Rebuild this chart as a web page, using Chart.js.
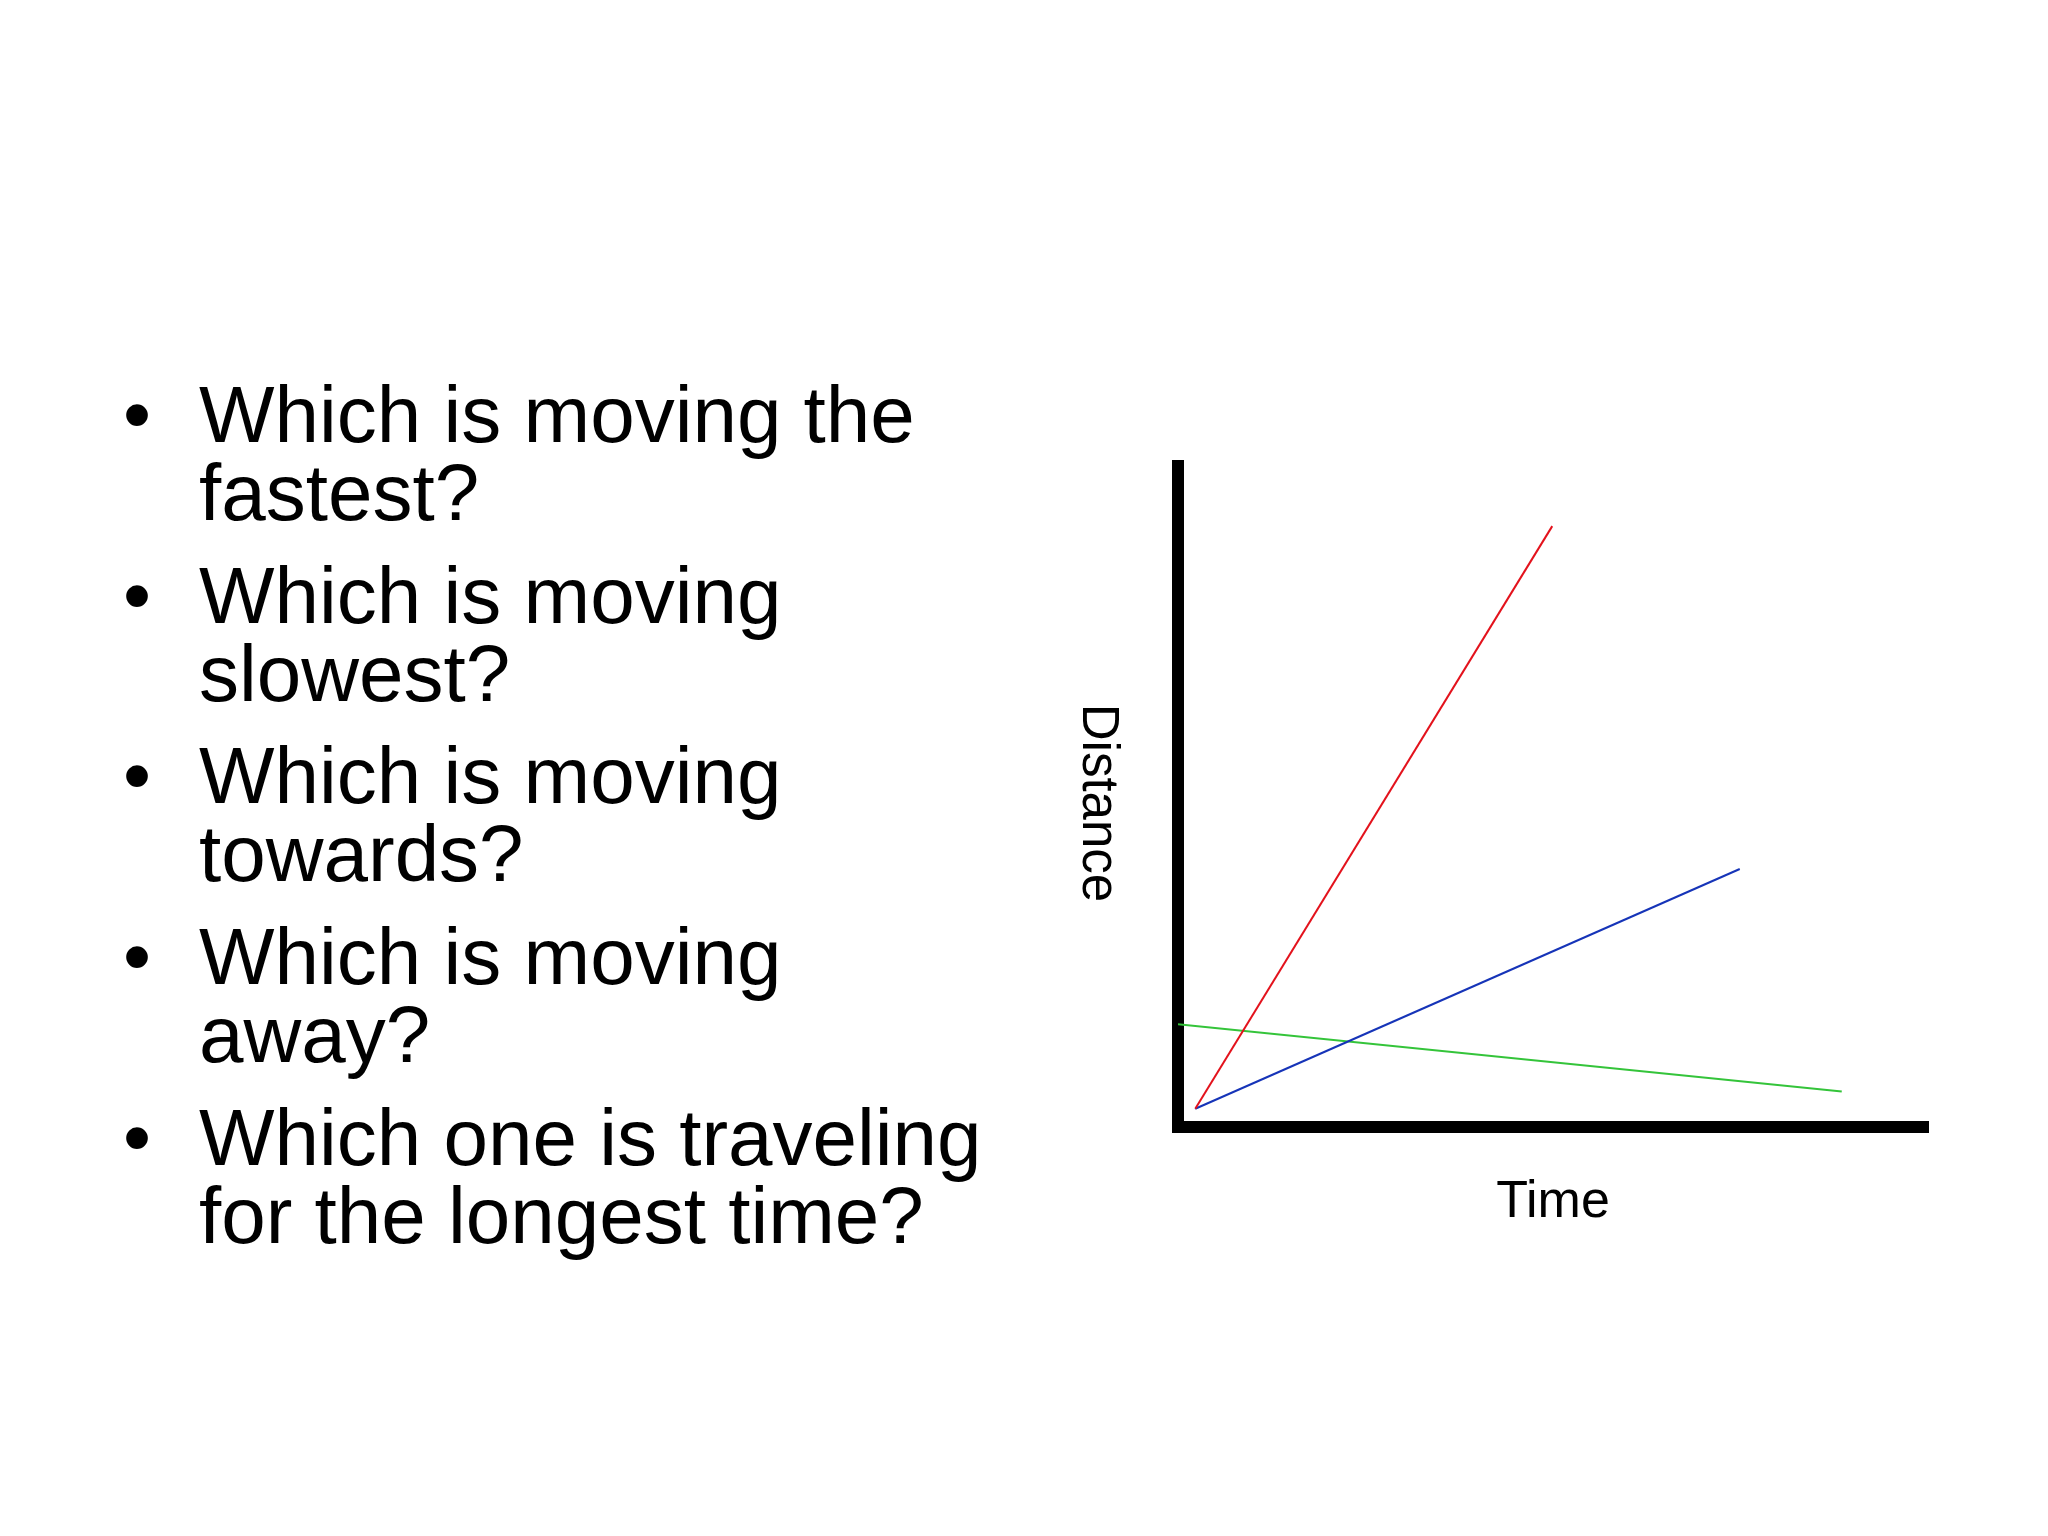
<!DOCTYPE html>
<html>
<head>
<meta charset="utf-8">
<script src="https://cdn.jsdelivr.net/npm/chart.js@4.4.1/dist/chart.umd.min.js"></script>
<style>
  html, body { margin: 0; padding: 0; background: #fff; }
  body { width: 2048px; height: 1536px; position: relative; overflow: hidden;
         font-family: "Liberation Sans", Arial, sans-serif; }
  #questions { position: absolute; left: 0; top: 376px; margin: 0; padding: 0; list-style: none; }
  #questions li { position: relative; padding-left: 199px; font-size: 80px; line-height: 78px;
                  margin-bottom: 24.7px; color: #000; white-space: nowrap; }
  #questions li .dot { position: absolute; left: 123px; top: 0; }
  #wrap { position: absolute; left: 1040px; top: 440px; width: 920px; height: 800px; }
</style>
</head>
<body>
<ul id="questions"></ul>
<div id="wrap"><canvas id="graph"></canvas></div>
<script>
// les questions de la diapo (lignes coupées comme l'original)
let questions = [
    ['Which is moving the', 'fastest?'],
    ['Which is moving', 'slowest?'],
    ['Which is moving', 'towards?'],
    ['Which is moving', 'away?'],
    ['Which one is traveling', 'for the longest time?']
];

// les trois lignes distance / temps (unités arbitraires, 0-10)
let redPoints = [{x: 0.23, y: 0.27}, {x: 4.99, y: 9.09}];
let bluePoints = [{x: 0.23, y: 0.27}, {x: 7.49, y: 3.90}];
let greenPoints = [{x: 0, y: 1.55}, {x: 8.85, y: 0.53}];

let xLabel = 'Time';
let yLabel = 'Distance';

let list = document.getElementById('questions');
for (let i = 0; i < questions.length; i++) {
    let li = document.createElement('li');
    let dot = document.createElement('span');
    dot.classList.add('dot');
    dot.innerText = '•';
    li.appendChild(dot);
    li.appendChild(document.createTextNode(questions[i][0]));
    li.appendChild(document.createElement('br'));
    li.appendChild(document.createTextNode(questions[i][1]));
    list.appendChild(li);
}

// titre de l'axe y tourné dans l'autre sens (haut vers bas)
const yTitlePlugin = {
    id: 'yTitle',
    afterDraw(chart) {
        const ctx = chart.ctx;
        const area = chart.chartArea;
        ctx.save();
        ctx.translate(area.left - 81, 363);
        ctx.rotate(Math.PI / 2);
        ctx.font = '51px "Liberation Sans", Arial, sans-serif';
        ctx.fillStyle = '#000';
        ctx.textAlign = 'center';
        ctx.textBaseline = 'middle';
        ctx.fillText(yLabel, 0, 0);
        ctx.restore();
    }
};

const ctx = document.getElementById('graph').getContext('2d');
const graph = new Chart(ctx, {
    type: 'scatter',
    data: {
        datasets: [{
            data: redPoints,
            borderColor: '#e3121c',
            borderWidth: 2,
            showLine: true,
            pointRadius: 0
        }, {
            data: bluePoints,
            borderColor: '#1634b8',
            borderWidth: 2,
            showLine: true,
            pointRadius: 0
        }, {
            data: greenPoints,
            borderColor: '#34c43a',
            borderWidth: 2,
            showLine: true,
            pointRadius: 0
        }]
    },
    options: {
        responsive: true,
        maintainAspectRatio: false,
        animation: false,
        layout: {
            padding: {left: 130, top: 26, right: 32, bottom: 0}
        },
        plugins: {
            legend: {display: false},
            tooltip: {enabled: false}
        },
        scales: {
            x: {
                type: 'linear',
                min: 0,
                max: 10,
                grid: {display: false},
                ticks: {display: false},
                border: {display: true, color: '#000', width: 12},
                title: {
                    display: true,
                    text: xLabel,
                    color: '#000',
                    font: {size: 52, family: '"Liberation Sans", Arial, sans-serif'},
                    padding: {top: 37, bottom: 6}
                }
            },
            y: {
                type: 'linear',
                min: 0,
                max: 10,
                grid: {display: false},
                ticks: {display: false},
                border: {display: true, color: '#000', width: 12}
            }
        }
    },
    plugins: [yTitlePlugin]
});
</script>
</body>
</html>
